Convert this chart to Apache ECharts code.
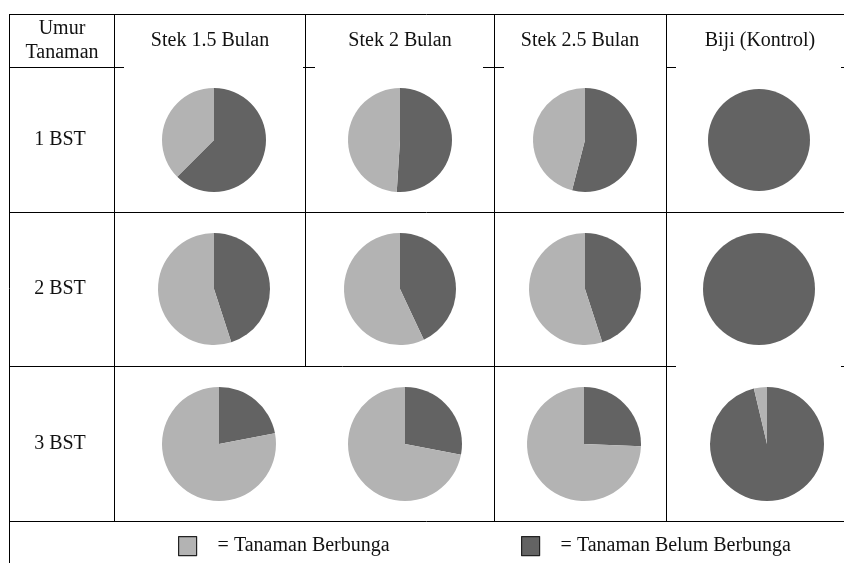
<!DOCTYPE html>
<html>
<head>
<meta charset="utf-8">
<script src="https://cdn.jsdelivr.net/npm/echarts@6/dist/echarts.min.js"></script>
<style>
html,body{margin:0;padding:0;background:#fff;}
#chart{width:844px;height:563px;}
</style>
</head>
<body>
<div id="chart"></div>
<script>
// ---- data ----
const rowLabels = ['1 BST', '2 BST', '3 BST'];
const colLabels = ['Stek 1.5 Bulan', 'Stek 2 Bulan', 'Stek 2.5 Bulan', 'Biji (Kontrol)'];
const seriesNames = ['Tanaman Belum Berbunga', 'Tanaman Berbunga'];
// percentage of plants not yet flowering (dark), per row (age) and column (treatment)
const belumBerbunga = [
  [62.5, 51, 54, 100],
  [45, 43, 45, 100],
  [22, 28, 25.6, 96.3]
];
// percentage of plants flowering (light)
const berbunga = [
  [37.5, 49, 46, 0],
  [55, 57, 55, 0],
  [78, 72, 74.4, 3.7]
];

// ---- layout ----
const FONT = '"Liberation Serif", "DejaVu Serif", serif';
const colorDark = '#636363';
const colorLight = '#b3b3b3';
const rowCY = [140, 289, 444];
const colCX = [[214, 400, 585, 759], [214, 400, 585, 759], [219, 405, 584, 767]];
const radii = [[52, 52, 52, 51], [56, 56, 56, 56], [57, 57, 57, 57]];

const hLines = [
  [14, 9, 844],
  [67, 9, 124], [67, 303, 315], [67, 483, 504], [67, 666, 676], [67, 841, 844],
  [212, 9, 844],
  [366, 9, 676], [366, 841, 844],
  [521, 9, 844]
];
const vLines = [
  [9, 14, 563],
  [114, 14, 521],
  [305, 14, 366],
  [494, 14, 521],
  [666, 14, 521]
];

const graphics = [];
hLines.forEach(([y, x1, x2]) => graphics.push({
  type: 'line', silent: true,
  shape: {x1: x1, y1: y + 0.5, x2: x2, y2: y + 0.5},
  style: {stroke: '#000', lineWidth: 1}
}));
vLines.forEach(([x, y1, y2]) => graphics.push({
  type: 'line', silent: true,
  shape: {x1: x + 0.5, y1: y1, x2: x + 0.5, y2: y2},
  style: {stroke: '#000', lineWidth: 1}
}));

function txt(x, y, s) {
  graphics.push({
    type: 'text', silent: true, x: x, y: y,
    style: {text: s, fill: '#111', font: '20px ' + FONT, textAlign: 'center', textVerticalAlign: 'middle'}
  });
}
txt(62, 29, 'Umur');
txt(62, 53, 'Tanaman');
const headX = [210, 400, 580, 760];
colLabels.forEach((c, i) => txt(headX[i], 41, c));
rowLabels.forEach((r, i) => txt(60, rowCY[i], r));

const series = [];
rowLabels.forEach((r, ri) => {
  colLabels.forEach((c, ci) => {
    series.push({
      type: 'pie',
      name: r + ' / ' + c,
      center: [colCX[ri][ci], rowCY[ri]],
      radius: radii[ri][ci],
      startAngle: 90,
      clockwise: true,
      silent: true,
      animation: false,
      label: {show: false},
      labelLine: {show: false},
      emphasis: {disabled: true},
      itemStyle: {borderWidth: 0},
      data: [
        {name: seriesNames[0], value: belumBerbunga[ri][ci], itemStyle: {color: colorDark}},
        {name: seriesNames[1], value: berbunga[ri][ci], itemStyle: {color: colorLight}}
      ]
    });
  });
});

const legendBase = {
  orient: 'horizontal',
  icon: 'rect',
  itemWidth: 18,
  itemHeight: 19,
  selectedMode: false,
  itemStyle: {borderColor: '#222', borderWidth: 1.2},
  formatter: '= {name}',
  textStyle: {fontFamily: FONT, fontSize: 20, color: '#111', padding: [0, 0, 0, 16]}
};

const chart = echarts.init(document.getElementById('chart'), null, {renderer: 'canvas'});
chart.setOption({
  backgroundColor: '#fff',
  animation: false,
  legend: [
    Object.assign({}, legendBase, {left: 173, top: 531, data: [seriesNames[1]]}),
    Object.assign({}, legendBase, {left: 516, top: 531, data: [seriesNames[0]]})
  ],
  graphic: graphics,
  series: series
});
</script>
</body>
</html>
